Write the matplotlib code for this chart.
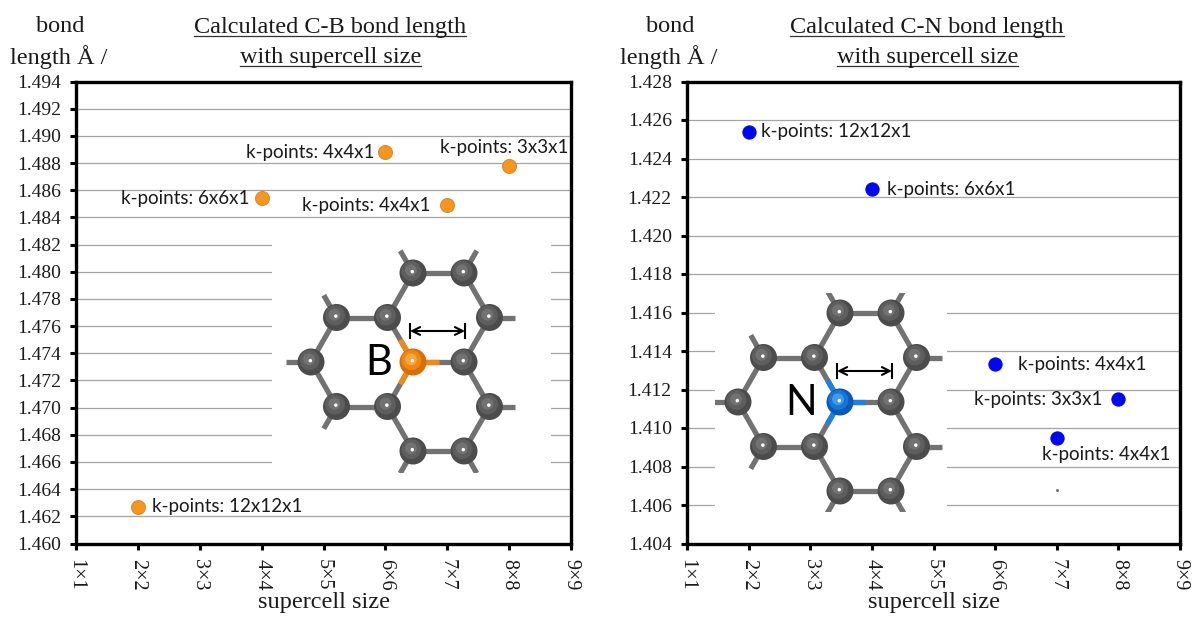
import numpy as np
import matplotlib
matplotlib.use("Agg")
import matplotlib.pyplot as plt
from matplotlib.patches import Circle
from matplotlib.lines import Line2D

# ---------------- data ----------------
cb_x = [2, 4, 6, 7, 8]
cb_y = [1.4627, 1.4854, 1.4888, 1.4849, 1.4878]
cb_labels = ['k-points: 12x12x1', 'k-points: 6x6x1', 'k-points: 4x4x1',
             'k-points: 4x4x1', 'k-points: 3x3x1']

cn_x = [2, 4, 6, 8, 7]
cn_y = [1.4254, 1.4224, 1.4133, 1.4115, 1.4095]
cn_labels = ['k-points: 12x12x1', 'k-points: 6x6x1', 'k-points: 4x4x1',
             'k-points: 3x3x1', 'k-points: 4x4x1']

stray_x = [7]
stray_y = [1.4068]

x_ticks = [1, 2, 3, 4, 5, 6, 7, 8, 9]
x_ticklabels = ['1×1', '2×2', '3×3', '4×4', '5×5', '6×6', '7×7', '8×8', '9×9']
cb_yticks = [1.460, 1.462, 1.464, 1.466, 1.468, 1.470, 1.472, 1.474, 1.476,
             1.478, 1.480, 1.482, 1.484, 1.486, 1.488, 1.490, 1.492, 1.494]
cn_yticks = [1.404, 1.406, 1.408, 1.410, 1.412, 1.414, 1.416, 1.418, 1.420,
             1.422, 1.424, 1.426, 1.428]

# ---------------- styles ----------------
W, H = 1192, 619
SERIF = 'Liberation Serif'
SANS = 'Lato'
TXT = '#1a1a1a'

# label offsets in pixels (ha, dx, dy)
cb_offsets = [('left', 14, 0), ('right', -12, 0), ('right', -11, 0),
              ('right', -17, 0), ('right', 59, 18)]
cn_offsets = [('left', 12, 0), ('left', 15, 0), ('left', 23, 0),
              ('right', -16, 0), ('center', 50, -17)]

fig = plt.figure(figsize=(W / 100, H / 100), dpi=100)
fig.patch.set_facecolor('white')


def fx(px):
    return px / W


def fy(py):
    return 1 - py / H


def make_axes(x0, x1, y0, y1):
    return fig.add_axes([fx(x0), fy(y1), (x1 - x0) / W, (y1 - y0) / H])


def style_axes(ax, yticks):
    ax.set_xlim(1, 9)
    ax.set_ylim(yticks[0], yticks[-1])
    ax.set_xticks(x_ticks)
    ax.set_xticklabels(x_ticklabels, rotation=-90, va='top', ha='center',
                       family=SERIF, fontsize=14.5, color=TXT)
    ax.set_yticks(yticks)
    ax.set_yticklabels([f'{v:.3f}' for v in yticks], family=SERIF,
                       fontsize=14, color=TXT)
    ax.tick_params(axis='both', direction='out', length=4, width=2.2,
                   pad=7, color='black')
    for s in ax.spines.values():
        s.set_linewidth(2.4)
        s.set_color('black')
    ax.yaxis.grid(True, color='#a4a4a4', linewidth=0.9)
    ax.set_axisbelow(True)
    ax.set_xlabel('supercell size', family=SERIF, fontsize=17.5, color=TXT,
                  labelpad=1)


def draw_points(ax, xs, ys, labels, offsets, fc, ec, ms):
    ax.plot(xs, ys, linestyle='none', marker='o', markersize=ms,
            markerfacecolor=fc, markeredgecolor=ec, markeredgewidth=0.8,
            zorder=5)
    for x, y, lab, (ha, dx, dy) in zip(xs, ys, labels, offsets):
        ax.annotate(lab, xy=(x, y), xytext=(dx, dy),
                    textcoords='offset pixels', ha=ha, va='center',
                    family=SANS, fontsize=13.5, color=TXT, zorder=6)


def sphere(ax, cx, cy, r, shades):
    base, mid, light = shades
    ax.add_patch(Circle((cx, cy), r, facecolor=base, edgecolor='none', zorder=4))
    ax.add_patch(Circle((cx - 0.12 * r, cy - 0.15 * r), 0.74 * r,
                        facecolor=mid, edgecolor='none', zorder=4))
    ax.add_patch(Circle((cx - 0.15 * r, cy - 0.2 * r), 0.44 * r,
                        facecolor=light, edgecolor='none', zorder=4))
    ax.add_patch(Circle((cx - 0.05 * r, cy - 0.1 * r), 0.13 * r,
                        facecolor='white', edgecolor='none', zorder=4))


def draw_molecule(box, center, dop_shades, dop_bond, letter, letter_dx):
    x0, x1, y0, y1 = box
    ia = make_axes(x0, x1, y0, y1)
    ia.set_xlim(x0, x1)
    ia.set_ylim(y1, y0)
    ia.axis('off')
    ia.add_patch(plt.Rectangle((x0, y0), x1 - x0, y1 - y0, facecolor='white',
                               edgecolor='none', zorder=0))
    bx, by = center
    a = 51.0
    h = 44.5
    rel = {
        'D': (0, 0), 'C1': (a, 0), 'C2': (-a / 2, -h), 'C3': (-a / 2, h),
        'C4': (0, -2 * h), 'C5': (a, -2 * h), 'C6': (1.5 * a, -h),
        'C7': (1.5 * a, h), 'C8': (0, 2 * h), 'C9': (a, 2 * h),
        'C10': (-1.5 * a, -h), 'C11': (-2 * a, 0), 'C12': (-1.5 * a, h),
    }
    P = {k: (bx + v[0], by + v[1]) for k, v in rel.items()}
    bonds = [('D', 'C1'), ('D', 'C2'), ('D', 'C3'), ('C2', 'C4'), ('C4', 'C5'),
             ('C5', 'C6'), ('C6', 'C1'), ('C1', 'C7'), ('C7', 'C9'),
             ('C9', 'C8'), ('C8', 'C3'), ('C3', 'C12'), ('C12', 'C11'),
             ('C11', 'C10'), ('C10', 'C2')]
    dangling = [('C11', (-1, 0)), ('C10', (-0.5, -h / a)), ('C12', (-0.5, h / a)),
                ('C4', (-0.5, -h / a)), ('C5', (0.5, -h / a)), ('C6', (1, 0)),
                ('C7', (1, 0)), ('C8', (-0.5, h / a)), ('C9', (0.5, h / a))]
    bond_kw = dict(color='#727272', linewidth=3.8, solid_capstyle='butt', zorder=2)
    for p, q in bonds:
        ia.plot([P[p][0], P[q][0]], [P[p][1], P[q][1]], **bond_kw)
    for p, (ux, uy) in dangling:
        L = 0.5 * a
        ia.plot([P[p][0], P[p][0] + ux * L], [P[p][1], P[p][1] + uy * L], **bond_kw)
    for q in ('C1', 'C2', 'C3'):
        mx = (P['D'][0] + P[q][0]) / 2
        my = (P['D'][1] + P[q][1]) / 2
        ia.plot([P['D'][0], mx], [P['D'][1], my], color=dop_bond,
                linewidth=3.8, solid_capstyle='butt', zorder=3)
    grey = ('#4c4c4c', '#5e5e5e', '#727272')
    r = 13.5
    for k, (px, py) in P.items():
        sphere(ia, px, py, r, dop_shades if k == 'D' else grey)
    # arrow
    ay = by - 31
    ax1, ax2 = bx - 3, bx + 52
    ia.annotate('', xy=(ax2, ay), xytext=(ax1, ay),
                arrowprops=dict(arrowstyle='<->', lw=1.5, color='black',
                                shrinkA=0, shrinkB=0, mutation_scale=14),
                zorder=6)
    for xx in (ax1, ax2):
        ia.plot([xx, xx], [ay - 7, ay + 7], color='black', lw=1.5, zorder=6)
    ia.text(bx + letter_dx, by + 1, letter, family=SANS, fontsize=30,
            ha='center', va='center', color='black', zorder=6)
    return ia


# ---------------- left panel ----------------
axL = make_axes(76, 571, 81.5, 543.5)
style_axes(axL, cb_yticks)
draw_points(axL, cb_x, cb_y, cb_labels, cb_offsets, '#F7961C', '#D88A3A', 10)

# ---------------- right panel ----------------
axR = make_axes(687, 1180, 81.5, 543.5)
style_axes(axR, cn_yticks)
draw_points(axR, cn_x, cn_y, cn_labels, cn_offsets, '#0008F0', '#0008F0', 9.5)
axR.plot(stray_x, stray_y, linestyle='none', marker='o', markersize=1.2,
         color='#777777')

# molecule insets
draw_molecule((272, 551, 240, 473), (413, 362),
              ('#D86E08', '#EE8812', '#F7A640'), '#EE8A1C', 'B', -34)
draw_molecule((715, 947, 293, 512), (840, 402),
              ('#0A58B8', '#1476D6', '#4498E8'), '#1E80E2', 'N', -39)

# ---------------- header texts ----------------
def header(text, cx, cy):
    return fig.text(fx(cx), fy(cy), text, family=SERIF, fontsize=17.5,
                    ha='center', va='center', color=TXT)


title_lines = [
    ('Calculated C-B bond length', 329.6, 27),
    ('with supercell size', 330.5, 57),
    ('Calculated C-N bond length', 926.8, 27),
    ('with supercell size', 927.4, 57),
]
ylab_lines = [
    ('bond', 60.3, 27), ('length Å /', 59, 57),
    ('bond', 669.8, 27), ('length Å /', 669, 57),
]
titles = [header(t, x, y) for t, x, y in title_lines]
for t, x, y in ylab_lines:
    header(t, x, y)

fig.canvas.draw()
renderer = fig.canvas.get_renderer()
for t in titles:
    bb = t.get_window_extent(renderer)
    yline = bb.y0 + 2
    fig.add_artist(Line2D([bb.x0 / W, bb.x1 / W], [yline / H, yline / H],
                          transform=fig.transFigure, color='#333333',
                          linewidth=0.9))

fig.savefig('out.png', dpi=100, facecolor='white')
